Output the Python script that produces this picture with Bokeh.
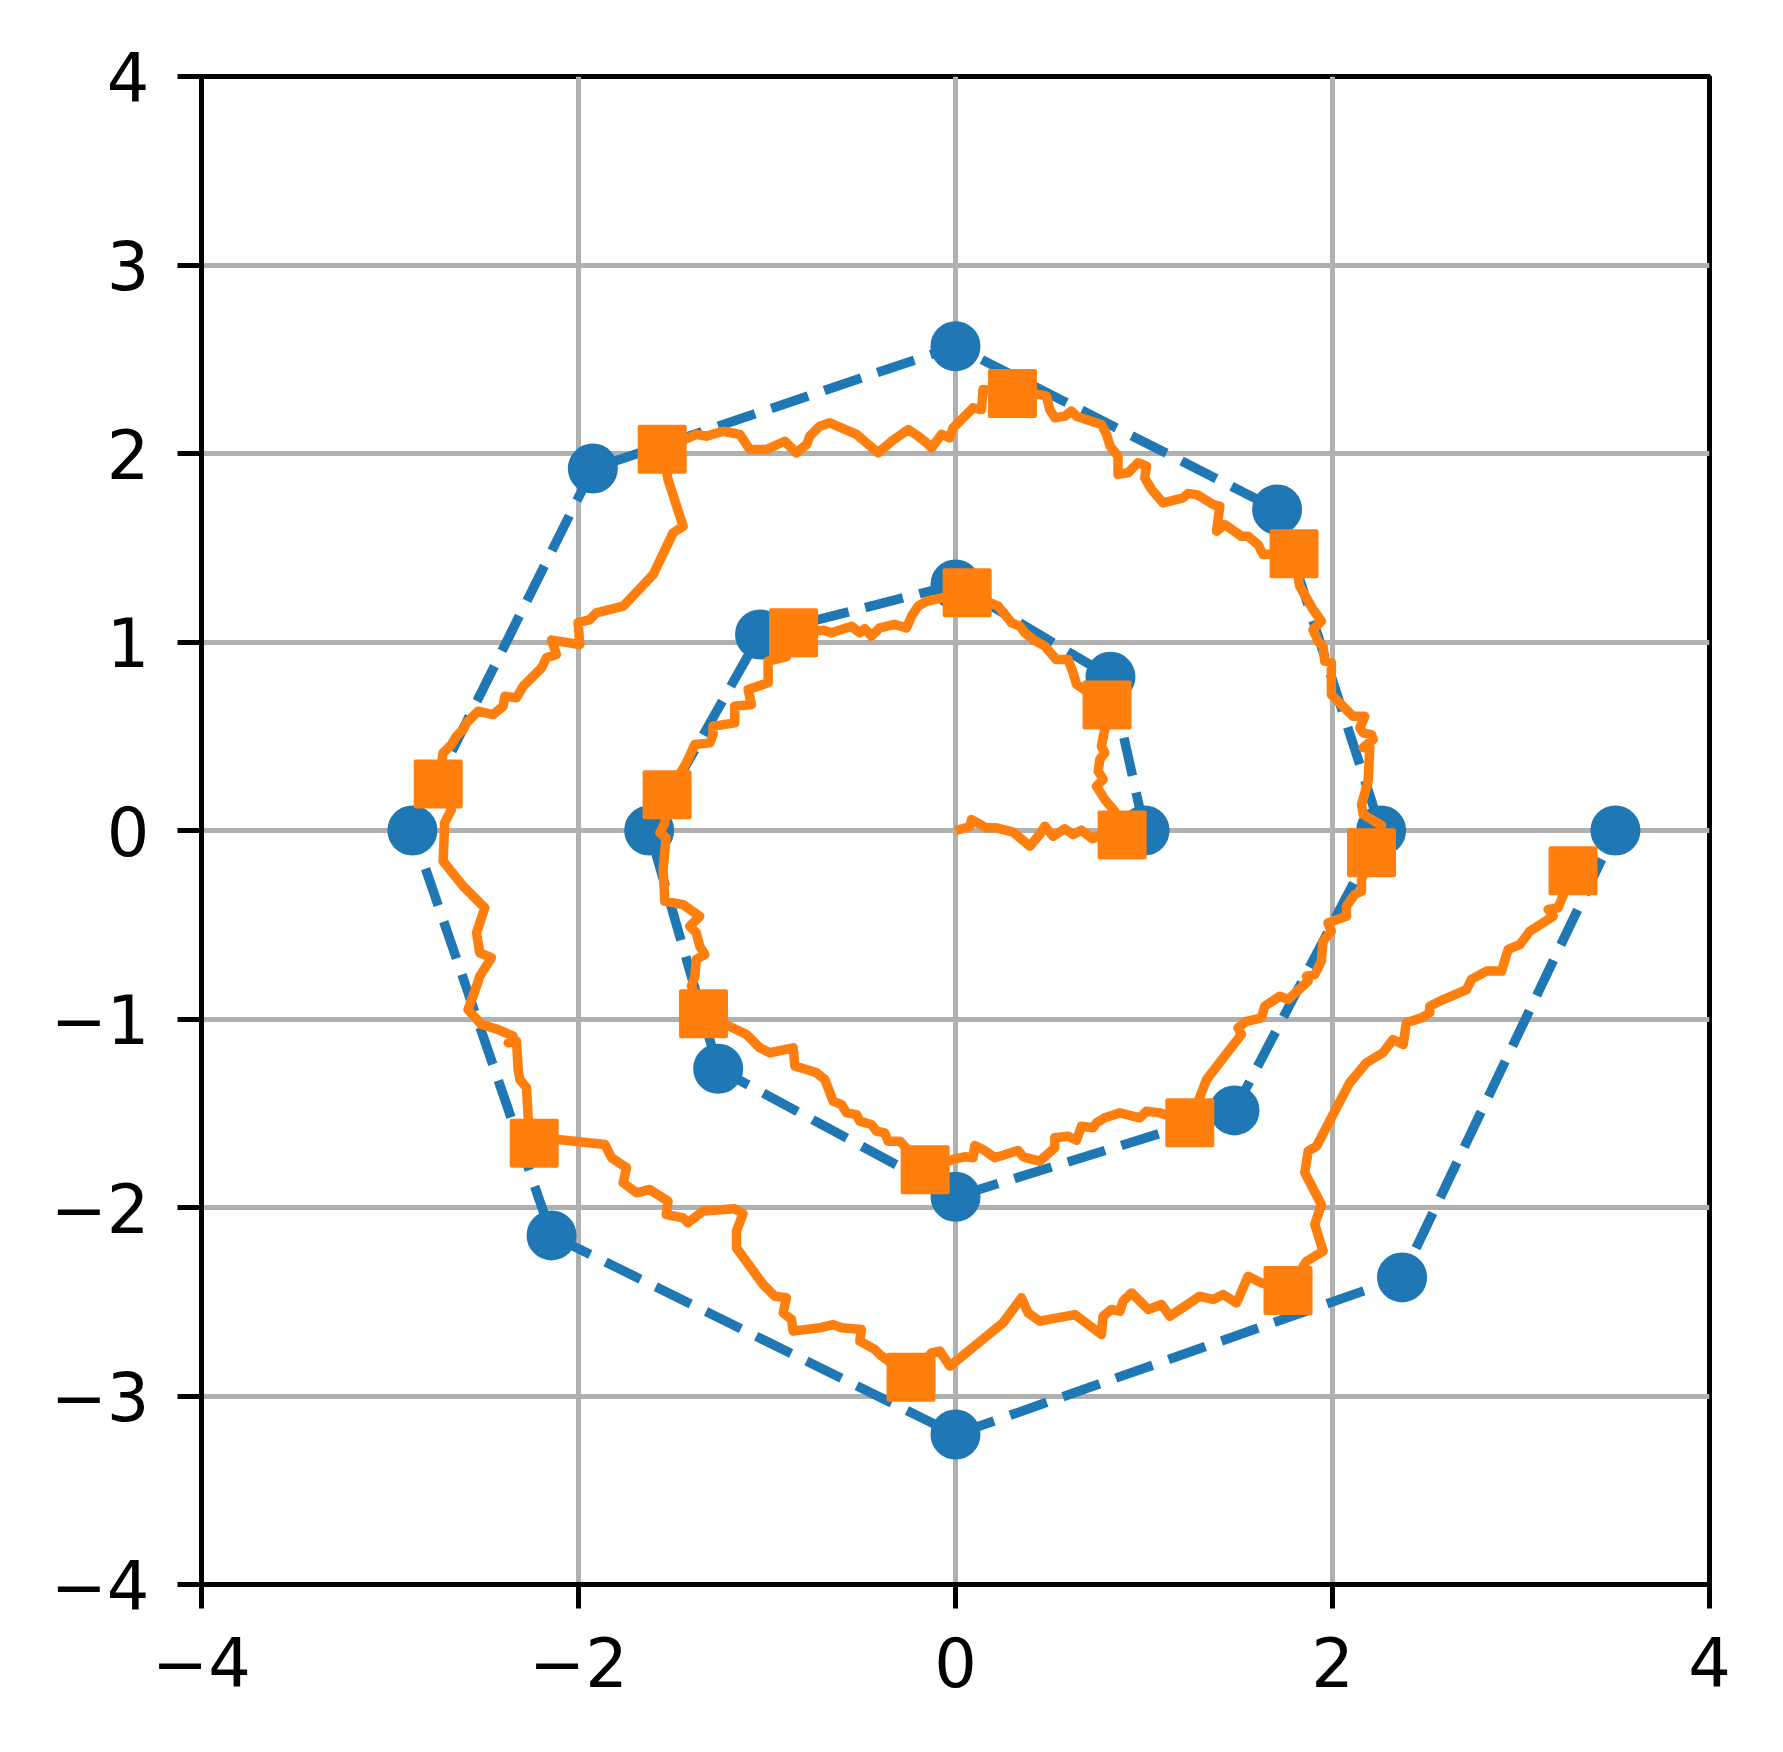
from bokeh.plotting import figure
from bokeh.models import Range1d, FixedTicker
from bokeh.embed import file_html
from bokeh.resources import INLINE

# ---- data ----
x_ticks = [-4, -2, 0, 2, 4]
x_tick_labels = ["\u22124", "\u22122", "0", "2", "4"]
y_ticks = [-4, -3, -2, -1, 0, 1, 2, 3, 4]
y_tick_labels = ["\u22124", "\u22123", "\u22122", "\u22121", "0", "1", "2", "3", "4"]

blue_x = [1.003, 0.822, 0.0, -1.037, -1.625, -1.259, 0.0, 1.480, 2.258, 1.706, 0.0,
          -1.924, -2.881, -2.143, 0.0, 2.369, 3.501]
blue_y = [0.0, 0.815, 1.305, 1.040, 0.0, -1.264, -1.943, -1.485, 0.0, 1.703, 2.569,
          1.920, 0.0, -2.148, -3.204, -2.371, 0.0]

sq_x = [0.884, 0.804, 0.062, -0.859, -1.530, -1.337, -0.161, 1.243, 2.207, 1.796, 0.302,
        -1.556, -2.744, -2.235, -0.236, 1.764, 3.276]
sq_y = [-0.024, 0.666, 1.261, 1.049, 0.189, -0.972, -1.800, -1.551, -0.118, 1.468, 2.318,
        2.023, 0.247, -1.659, -2.900, -2.440, -0.214]

orange_x = [
    0.0, 0.076, 0.085, 0.164, 0.217, 0.306, 0.394, 0.447, 0.474, 0.518, 0.580, 0.624, 0.668, 0.726, 0.770,
    0.884, 0.845, 0.792, 0.748, 0.783, 0.757, 0.766, 0.792, 0.774, 0.792,
    0.804, 0.642, 0.624, 0.597, 0.535, 0.474, 0.412, 0.368, 0.341, 0.297, 0.270, 0.226,
    0.062, -0.074, -0.154, -0.198, -0.233, -0.260, -0.322, -0.402, -0.446, -0.481, -0.508, -0.552, -0.658, -0.703, -0.756,
    -0.859, -0.897, -0.994, -0.994, -1.100, -1.083, -1.171, -1.171, -1.286, -1.286, -1.303, -1.383, -1.427,
    -1.530, -1.542, -1.568, -1.535, -1.551, -1.542, -1.445, -1.357, -1.410, -1.375, -1.357, -1.330, -1.375, -1.383, -1.401,
    -1.337, -1.109, -1.038, -0.985, -0.861, -0.852, -0.790, -0.738, -0.693, -0.649, -0.605, -0.578, -0.525, -0.508, -0.446,
    -0.419, -0.375, -0.358, -0.296, -0.270,
    -0.161, -0.013, 0.049, 0.093, 0.102, 0.146, 0.208, 0.332, 0.359, 0.447, 0.527, 0.527, 0.597, 0.642, 0.668, 0.730,
    0.748, 0.792, 0.872, 0.978, 1.013, 1.084,
    1.243, 1.332, 1.517, 1.499, 1.544, 1.623, 1.641, 1.720, 1.765, 1.871, 1.862, 1.906, 1.941, 1.950, 1.994, 1.976,
    2.074, 2.074, 2.118, 2.154, 2.154,
    2.207, 2.260, 2.163, 2.154, 2.189, 2.198, 2.163, 2.216, 2.207, 2.163, 2.145, 2.171, 2.109, 1.994, 1.994, 1.959,
    1.950, 1.923, 1.897, 1.941, 1.897, 1.826,
    1.796, 1.632, 1.605, 1.552, 1.517, 1.429, 1.385, 1.402, 1.367, 1.296, 1.278, 1.234, 1.208, 1.101, 1.040, 1.004,
    1.013, 0.968, 0.916, 0.862, 0.862, 0.820, 0.801, 0.774, 0.721, 0.642, 0.615, 0.580, 0.527, 0.500, 0.483, 0.447,
    0.302, 0.146, 0.138, 0.093, 0.014, -0.013, -0.030, -0.074, -0.101, -0.127, -0.154, -0.198, -0.251, -0.331, -0.411,
    -0.525, -0.667, -0.720, -0.773, -0.790, -0.844, -0.906, -1.003, -1.091, -1.144, -1.233, -1.321, -1.374,
    -1.556, -1.525, -1.445, -1.498, -1.604, -1.763, -1.905, -1.940, -2.002, -1.993, -2.143, -2.117, -2.170, -2.196,
    -2.294, -2.329, -2.391, -2.400, -2.453, -2.532, -2.594, -2.612, -2.648, -2.674, -2.718,
    -2.744, -2.674, -2.710, -2.718, -2.612, -2.497, -2.541, -2.524, -2.462, -2.524, -2.541, -2.586, -2.515, -2.426,
    -2.347, -2.373, -2.329, -2.320, -2.311, -2.276, -2.267,
    -2.235, -2.108, -1.860, -1.825, -1.745, -1.763, -1.692, -1.622, -1.525, -1.534, -1.445, -1.419, -1.339, -1.171,
    -1.127, -1.162, -1.162, -1.021, -0.959, -0.897, -0.914, -0.870, -0.861, -0.720, -0.649, -0.605, -0.499, -0.508,
    -0.428, -0.402,
    -0.236, -0.127, -0.083, -0.030, 0.252, 0.350, 0.385, 0.447, 0.633, 0.774, 0.783, 0.827, 0.872, 0.889, 0.934,
    1.022, 1.093, 1.137, 1.296, 1.367, 1.420, 1.491, 1.552, 1.623,
    1.764, 1.862, 1.950, 1.906, 1.941, 1.853, 1.871, 1.915, 2.090, 2.180, 2.268, 2.321, 2.375, 2.392, 2.472, 2.516,
    2.516, 2.587, 2.711, 2.737, 2.817, 2.897, 2.932, 2.994, 3.047, 3.171, 3.144, 3.197,
    3.276,
]
orange_y = [
    0.0, 0.020, 0.058, 0.014, 0.014, -0.009, -0.083, -0.021, 0.023, -0.030, 0.009, -0.021, 0.002, -0.044, -0.020,
    -0.024, 0.102, 0.164, 0.235, 0.271, 0.315, 0.377, 0.412, 0.447, 0.536,
    0.666, 0.775, 0.837, 0.907, 0.907, 0.978, 1.013, 1.049, 1.084, 1.102, 1.137, 1.190,
    1.261, 1.234, 1.216, 1.190, 1.137, 1.075, 1.093, 1.075, 1.031, 1.070, 1.049, 1.084, 1.049, 1.063, 1.057,
    1.049, 0.921, 0.898, 0.784, 0.748, 0.668, 0.659, 0.571, 0.553, 0.509, 0.465, 0.456, 0.359,
    0.189, 0.041, -0.012, -0.039, -0.207, -0.375, -0.393, -0.455, -0.508, -0.543, -0.614, -0.658, -0.684, -0.773, -0.826,
    -0.972, -1.082, -1.153, -1.179, -1.153, -1.250, -1.268, -1.285, -1.321, -1.436, -1.454, -1.498, -1.507, -1.542, -1.560,
    -1.595, -1.604, -1.648, -1.648, -1.675,
    -1.800, -1.745, -1.731, -1.736, -1.671, -1.692, -1.736, -1.698, -1.731, -1.754, -1.683, -1.630, -1.622, -1.643, -1.569, -1.577,
    -1.551, -1.524, -1.498, -1.524, -1.489, -1.498,
    -1.551, -1.321, -1.082, -1.047, -1.012, -0.994, -0.932, -0.879, -0.897, -0.799, -0.773, -0.764, -0.693, -0.587, -0.534, -0.490,
    -0.455, -0.402, -0.340, -0.322, -0.260,
    -0.118, 0.027, 0.085, 0.138, 0.262, 0.439, 0.439, 0.483, 0.509, 0.518, 0.545, 0.606, 0.606, 0.721, 0.890, 0.898,
    0.978, 1.004, 1.066, 1.110, 1.172, 1.296,
    1.468, 1.464, 1.517, 1.561, 1.561, 1.623, 1.588, 1.720, 1.729, 1.773, 1.782, 1.788, 1.765, 1.738, 1.809, 1.871,
    1.933, 1.951, 1.898, 1.889, 1.986, 2.039, 2.101, 2.154, 2.171, 2.198, 2.225, 2.198, 2.189, 2.233, 2.304, 2.313,
    2.318, 2.340, 2.233, 2.242, 2.163, 2.136, 2.083, 2.101, 2.065, 2.030, 2.057, 2.092, 2.127, 2.071, 2.004,
    2.101, 2.163, 2.145, 2.092, 2.048, 2.004, 2.065, 2.021, 2.021, 2.101, 2.118, 2.092, 2.101,
    2.023, 1.862, 1.614, 1.579, 1.358, 1.190, 1.155, 1.119, 1.102, 0.987, 1.010, 0.934, 0.916, 0.863,
    0.765, 0.704, 0.712, 0.659, 0.615, 0.633, 0.571, 0.536, 0.500, 0.456, 0.412,
    0.247, 0.111, 0.041, -0.163, -0.295, -0.410, -0.543, -0.649, -0.675, -0.773, -0.826, -0.950, -1.029, -1.056,
    -1.091, -1.126, -1.118, -1.268, -1.321, -1.365, -1.524,
    -1.659, -1.639, -1.666, -1.736, -1.789, -1.869, -1.922, -1.904, -1.967, -2.037, -2.055, -2.081, -2.019, -2.007,
    -2.032, -2.126, -2.214, -2.408, -2.471, -2.479, -2.559, -2.594, -2.656, -2.638, -2.621, -2.638, -2.647, -2.709,
    -2.753, -2.780,
    -2.900, -2.771, -2.762, -2.842, -2.612, -2.479, -2.559, -2.603, -2.568, -2.674, -2.577, -2.541, -2.550, -2.497, -2.453,
    -2.541, -2.515, -2.577, -2.471, -2.488, -2.462, -2.506, -2.365, -2.400,
    -2.440, -2.285, -2.232, -2.090, -1.984, -1.816, -1.701, -1.675, -1.340, -1.232, -1.179, -1.109, -1.135, -1.020, -0.994, -0.967,
    -0.932, -0.897, -0.844, -0.790, -0.746, -0.746, -0.631, -0.605, -0.534, -0.455, -0.419, -0.410,
    -0.214,
]

BLUE = "#1f77b4"
ORANGE = "#ff7f0e"

p = figure(
    frame_width=1508, frame_height=1508,
    min_border_left=201, min_border_top=76, min_border_right=60, min_border_bottom=150,
    x_range=Range1d(-4, 4), y_range=Range1d(-4, 4),
    output_backend="svg", toolbar_location=None,
)
p.background_fill_color = "white"
p.border_fill_color = "white"
p.outline_line_color = "black"
p.outline_line_width = 5

p.xaxis.ticker = FixedTicker(ticks=x_ticks)
p.yaxis.ticker = FixedTicker(ticks=y_ticks)
p.xaxis.major_label_overrides = {t: l for t, l in zip(x_ticks, x_tick_labels)}
p.yaxis.major_label_overrides = {t: l for t, l in zip(y_ticks, y_tick_labels)}

for ax in (p.xaxis, p.yaxis):
    ax.axis_line_color = "black"
    ax.axis_line_width = 5
    ax.major_tick_line_color = "black"
    ax.major_tick_line_width = 5
    ax.major_tick_out = 24
    ax.major_tick_in = 0
    ax.minor_tick_out = 0
    ax.minor_tick_in = 0
    ax.major_label_text_font = "DejaVu Sans"
    ax.major_label_text_font_size = "67px"
    ax.major_label_text_color = "black"
    ax.major_label_standoff = 28

for g in (p.xgrid, p.ygrid):
    g.grid_line_color = "#b0b0b0"
    g.grid_line_width = 5

p.line(blue_x, blue_y, line_color=BLUE, line_width=9.5, line_dash="39 17")
p.scatter(blue_x, blue_y, marker="circle", size=46, fill_color=BLUE, line_color=BLUE, line_width=4)
p.line(orange_x, orange_y, line_color=ORANGE, line_width=9.5, line_join="round")
p.scatter(sq_x, sq_y, marker="square", size=45, fill_color=ORANGE, line_color=ORANGE,
          line_width=4, line_join="round")

open("out.html", "w").write(file_html(p, INLINE))
